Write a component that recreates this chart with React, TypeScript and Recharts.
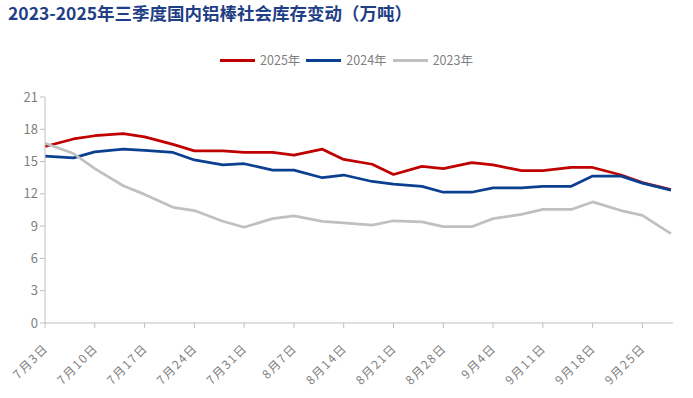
import React from "react";
import { LineChart, Line, XAxis, YAxis } from "recharts";

// twice-weekly sample dates (Q3), offsets measured from 7月3日
const dates = [
  "07-03", "07-07", "07-10", "07-14", "07-17", "07-21", "07-24", "07-28", "07-31",
  "08-04", "08-07", "08-11", "08-14", "08-18", "08-21", "08-25", "08-28",
  "09-01", "09-04", "09-08", "09-11", "09-15", "09-18", "09-22", "09-25", "09-29",
];

const y2025 = [
  16.4, 17.1, 17.4, 17.6, 17.3, 16.6, 16.0, 16.0, 15.85,
  15.85, 15.6, 16.15, 15.2, 14.75, 13.8, 14.55, 14.35,
  14.9, 14.7, 14.15, 14.15, 14.45, 14.45, 13.75, 13.05, 12.4,
];
const y2024 = [
  15.5, 15.35, 15.9, 16.15, 16.05, 15.85, 15.15, 14.7, 14.8,
  14.2, 14.2, 13.5, 13.75, 13.15, 12.9, 12.7, 12.15,
  12.15, 12.55, 12.55, 12.7, 12.7, 13.65, 13.65, 13.0, 12.35,
];
const y2023 = [
  16.7, 15.75, 14.35, 12.75, 11.95, 10.75, 10.45, 9.45, 8.9,
  9.7, 9.95, 9.45, 9.3, 9.1, 9.5, 9.4, 8.95,
  8.95, 9.7, 10.1, 10.55, 10.55, 11.25, 10.45, 10.0, 8.3,
];

const xTicks = [0, 7, 14, 21, 28, 35, 42, 49, 56, 63, 70, 77, 84];
const yTicks = [0, 3, 6, 9, 12, 15, 18, 21];

const series = [
  { key: "y2025", name: "2025年", color: "#c00000" },
  { key: "y2024", name: "2024年", color: "#0b3f8f" },
  { key: "y2023", name: "2023年", color: "#c0c0c0" },
];

const DAY = 86400000;
const base = Date.UTC(2025, 6, 3);

function dayOffset(md: string): number {
  const [m, d] = md.split("-").map(Number);
  return Math.round((Date.UTC(2025, m - 1, d) - base) / DAY);
}

function fmtDay(n: number): string {
  const dt = new Date(base + n * DAY);
  return `${dt.getUTCMonth() + 1}月${dt.getUTCDate()}日`;
}

const data = dates.map((md, i) => ({
  d: dayOffset(md),
  y2025: y2025[i],
  y2024: y2024[i],
  y2023: y2023[i],
}));

const FONT = '"Noto Sans CJK SC", "Noto Sans", sans-serif';
const GREY = "#7f7f7f";
const AXIS = "#bfbfbf";

function DateTick({ x, y, payload }: any) {
  const ax = x + 4;
  const ay = y + 19;
  return (
    <text
      x={ax} y={ay}
      transform={`rotate(-45, ${ax}, ${ay})`}
      textAnchor="end"
      fill={GREY}
      fontSize={12}
      letterSpacing={1.5}
      fontFamily={FONT}
    >
      {fmtDay(payload.value)}
    </text>
  );
}

export default function App() {
  return (
    <div style={{ position: "absolute", left: 0, top: 0, width: 693, height: 398, background: "#fff" }}>
      <div style={{
        position: "absolute", left: 8, top: 1,
        fontFamily: FONT, fontWeight: 700, fontSize: 17.5, color: "#1f3f86",
        whiteSpace: "nowrap", lineHeight: "24px",
      }}>
        2023-2025年三季度国内铝棒社会库存变动（万吨）
      </div>
      <div style={{
        position: "absolute", left: 0, top: 51, width: 693,
        display: "flex", justifyContent: "center",
        fontFamily: FONT, fontSize: 12.5, color: GREY, lineHeight: "18px",
      }}>
        {series.map(s => (
          <div key={s.key} style={{ display: "flex", alignItems: "center", margin: "0 3px" }}>
            <span style={{ display: "inline-block", width: 35, height: 3, background: s.color, marginRight: 5 }} />
            <span>{s.name}</span>
          </div>
        ))}
      </div>
      <LineChart
        width={693} height={398} data={data}
        margin={{ top: 97, right: 20, left: 5, bottom: 5 }}
      >
        <XAxis
          dataKey="d" type="number" domain={[0, 88.3]} ticks={xTicks}
          tick={<DateTick />} interval={0}
          stroke={AXIS} tickLine={{ stroke: AXIS }} tickSize={5}
          height={70}
        />
        <YAxis
          domain={[0, 21]} ticks={yTicks} width={40}
          tick={{ fill: GREY, fontSize: 13, fontFamily: FONT }}
          stroke={AXIS} tickLine={{ stroke: AXIS }} tickSize={5}
        />
        {series.map(s => (
          <Line
            key={s.key} dataKey={s.key} name={s.name}
            stroke={s.color} strokeWidth={2.75}
            dot={false} isAnimationActive={false}
            strokeLinejoin="round"
          />
        ))}
      </LineChart>
    </div>
  );
}
